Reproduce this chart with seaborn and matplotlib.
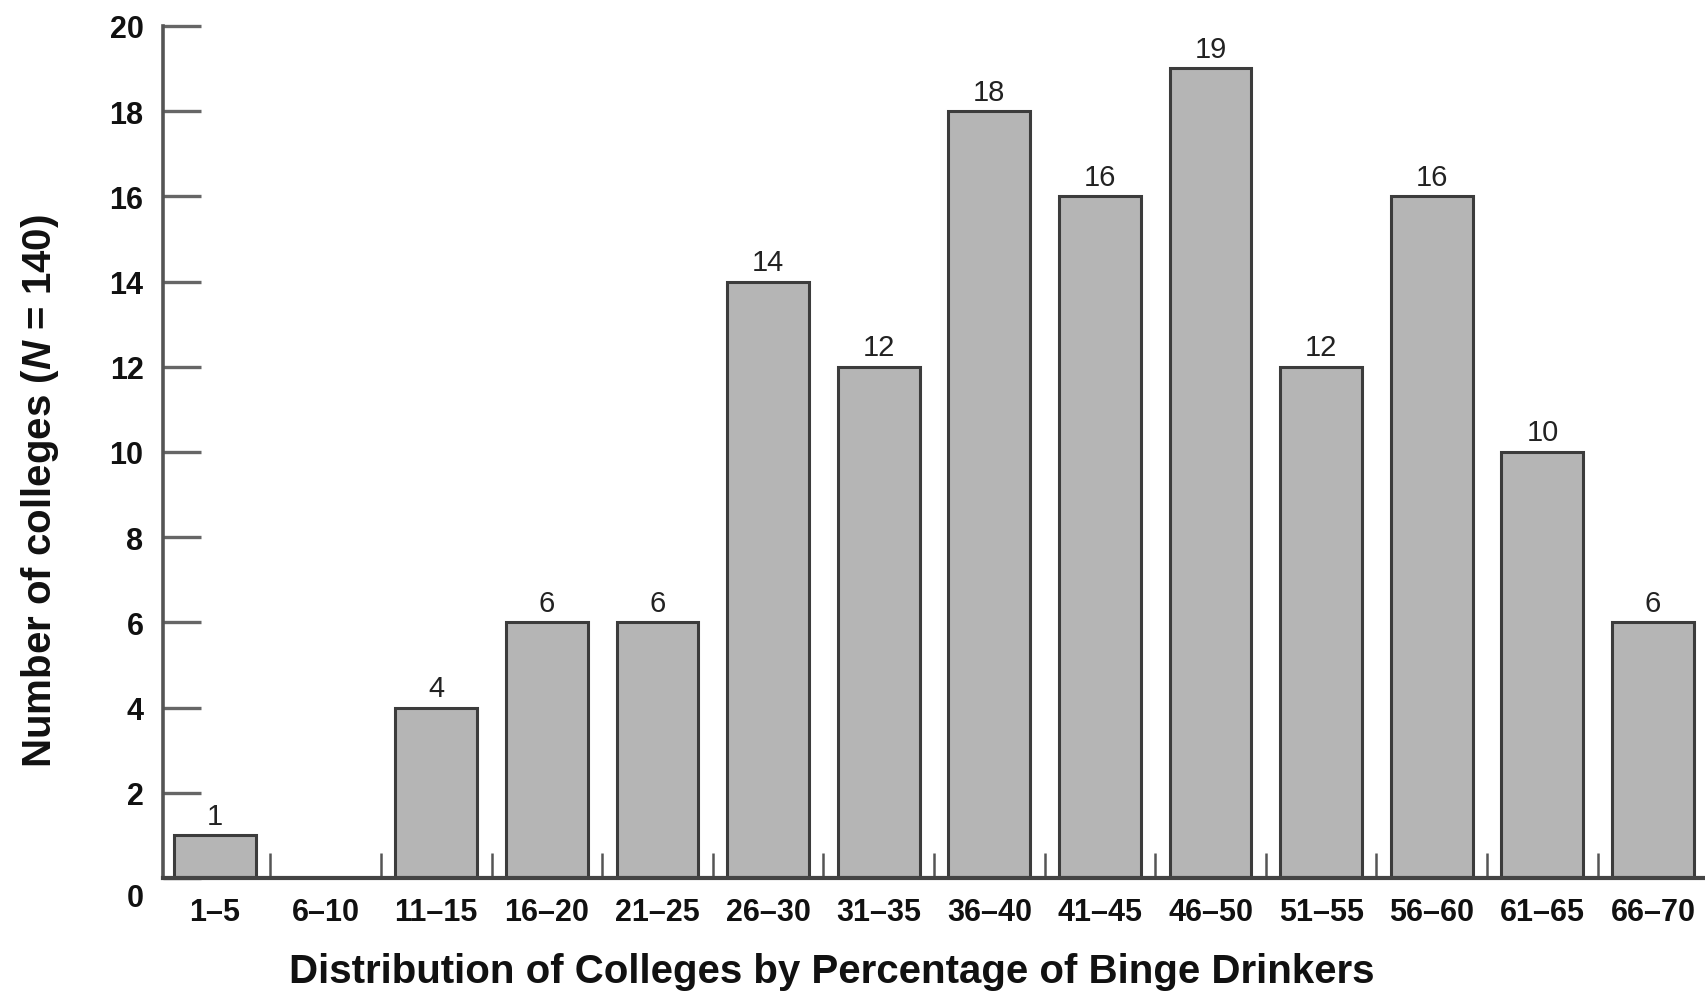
import matplotlib
matplotlib.use("Agg")
import matplotlib.pyplot as plt
import matplotlib.transforms as mtransforms
import numpy as np
import pandas as pd
import seaborn as sns

# data
ranges = ["1–5", "6–10", "11–15", "16–20", "21–25", "26–30", "31–35",
          "36–40", "41–45", "46–50", "51–55", "56–60", "61–65", "66–70"]
counts = [1, 0, 4, 6, 6, 14, 12, 18, 16, 19, 12, 16, 10, 6]
y_ticks = [0, 2, 4, 6, 8, 10, 12, 14, 16, 18, 20]

x_label = "Distribution of Colleges by Percentage of Binge Drinkers"
y_label = r"Number of colleges ($\mathit{N}$ = 140)"

df = pd.DataFrame({"range": ranges, "count": counts})

sns.set_style("white")
plt.rcParams["font.family"] = ["Liberation Sans", "DejaVu Sans"]
plt.rcParams["mathtext.fontset"] = "custom"
plt.rcParams["mathtext.it"] = "Liberation Sans:italic:bold"
plt.rcParams["mathtext.rm"] = "Liberation Sans:bold"

fig = plt.figure(figsize=(17.05, 9.95), dpi=100)
ax = fig.add_axes([0.0956, 0.1166, 0.9044, 0.973 - 0.1166])

sns.barplot(
    data=df,
    x="range",
    y="count",
    color="#b5b5b5",
    saturation=1,
    edgecolor="#3c3c3c",
    linewidth=2.2,
    width=0.74,
    ax=ax
)

bar_labels = [str(v) if v else "" for v in counts]
ax.bar_label(ax.containers[0], labels=bar_labels, padding=4,
             fontsize=21, color="#222222")

ax.set_xlim(-0.47, len(ranges) - 0.53)
ax.set_ylim(0, 20)
ax.set_yticks(y_ticks)

# small marks between bars
ax.set_xticks(np.arange(len(ranges) - 1) + 0.5, minor=True)
ax.tick_params(axis="x", which="major", length=0, pad=14,
               labelsize=22, labelcolor="#111111")
ax.tick_params(axis="x", which="minor", direction="in", length=18,
               width=1.8, color="#555555", bottom=True)
ax.tick_params(axis="y", which="major", direction="in", length=27,
               width=2.4, color="#666666", pad=14, labelsize=22,
               labelcolor="#111111", left=True)
for lab in ax.get_xticklabels() + ax.get_yticklabels():
    lab.set_fontweight("bold")

# the zero label sits a bit lower in the original
zero_lab = ax.get_yticklabels()[0]
zero_lab.set_transform(zero_lab.get_transform() +
                       mtransforms.ScaledTranslation(0, -0.17, fig.dpi_scale_trans))

ax.set_xlabel(x_label, fontsize=29, fontweight="bold", color="#111111")
ax.xaxis.set_label_coords(0.434, -0.087)
ax.set_ylabel(y_label, fontsize=29, fontweight="bold", color="#111111")
ax.yaxis.set_label_coords(-0.066, 0.455)

sns.despine(ax=ax, top=True, right=True)
ax.spines["left"].set_linewidth(2.6)
ax.spines["left"].set_color("#555555")
ax.spines["bottom"].set_linewidth(3.0)
ax.spines["bottom"].set_color("#444444")

fig.savefig("out.png", dpi=100)
plt.close(fig)
